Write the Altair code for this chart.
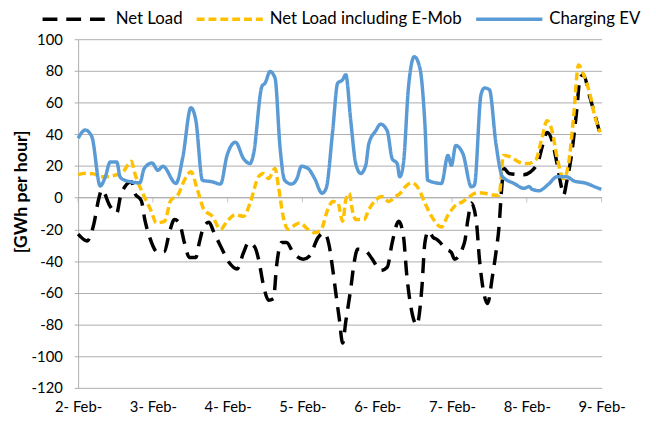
import altair as alt
import pandas as pd

# ---- data (hours since 2-Feb 00:00, values in GWh per hour) ----
day_hours = [0, 24, 48, 72, 96, 120, 144, 168]
day_labels = ["2- Feb-", "3- Feb-", "4- Feb-", "5- Feb-", "6- Feb-", "7- Feb-", "8- Feb-", "9- Feb-"]

series_names = ["Net Load", "Net Load including E-Mob", "Charging EV"]

net_h = [0, 2.9, 5.0, 6.7, 7.6, 10.3, 12.4, 13.5, 15.0, 17.1, 18.2, 20.3, 21.4, 23.0, 25.6, 27.7,
         29.3, 30.9, 32.5, 34.1, 35.7, 37.8, 38.9, 40.4, 42.0, 43.6, 45.7, 48.4, 51.0, 53.1, 54.7,
         56.8, 57.9, 59.5, 61.1, 62.7, 63.7, 65.3, 66.9, 69.0, 72.2, 74.3, 77.0, 79.0, 80.6, 81.7,
         82.8, 83.8, 84.9, 85.9, 87.5, 88.6, 89.7, 92.3, 94.4, 97.1, 99.2, 100.8, 102.9, 104.4,
         105.5, 107.1, 108.7, 110.3, 111.3, 112.4, 114.0, 115.1, 118.2, 119.8, 120.8, 124.0, 125.1,
         126.2, 127.8, 128.8, 129.8, 131.4, 133.0, 134.1, 135.1, 135.9, 136.7, 138.3, 143.0, 145.2,
         147.8, 148.9, 150.5, 152.1, 153.7, 155.2, 155.8, 156.8, 158.4, 160.0, 161.1, 162.1, 164.3,
         165.8, 167.4]
net_v = [-23, -27.3, -17, 0, 4.9, -5.5, -9.7, 0, 6.9, 10, 2.8, -2, -13.8, -25.2, -34.6, -34,
         -22, -13.8, -15.9, -28.3, -37.7, -37.7, -28.3, -18, -15.5, -22, -30.5, -40.8, -45, -34.6, -28.3,
         -31.5, -38.8, -55.4, -64.7, -63.7, -42.9, -28.3, -28.3, -34.6, -38.8, -36.7, -25.2, -22.1, -30.5, -45,
         -61.6, -76.1, -91.7, -78.2, -57.4, -40.8, -32.5, -33.6, -38.8, -46, -43.9, -28.3, -14.9, -24.2,
         -49.2, -72, -80.3, -57.4, -28.3, -21.1, -25.2, -26.3, -32.5, -34.6, -38.8, -28.3, -13.8,
         -3.4, -14.9, -38.8, -55.4, -66.8, -49.2, -34.6, -18, 5, 18.4, 15.3, 14.5, 16.3,
         23.6, 31.8, 41.2, 36, 21.5, 6, 1.7, 10, 27.7, 54.7, 75.5, 77.6, 63,
         52.6, 41.2]

emob_h = [0, 2.3, 5.0, 7.1, 9.2, 11.9, 14.5, 17.1, 18.2, 19.8, 21.4, 23.5, 25.1, 27.7, 29.8, 32.0,
          34.1, 36.2, 38.3, 40.4, 43.1, 45.7, 47.8, 50.5, 53.1, 55.2, 57.9, 59.5, 61.1, 63.2, 64.3,
          65.8, 67.4, 69.0, 71.1, 73.8, 75.9, 78.0, 80.1, 81.7, 83.3, 84.9, 85.9, 87.0, 88.1, 89.1,
          91.7, 93.3, 95.5, 97.6, 99.7, 101.8, 103.4, 105.0, 107.1, 109.2, 111.3, 113.5, 116.6, 118.7,
          120.8, 123.5, 125.6, 128.3, 130.4, 133.0, 135.1, 136.5, 138.9, 141.5, 144.1, 146.8, 148.9,
          150.5, 152.1, 153.7, 155.8, 157.4, 159.0, 160.6, 162.2, 164.3, 165.8, 167.6]
emob_v = [14.5, 15.4, 15, 13.2, 13.2, 14.2, 16.5, 23, 15.3, 6.9, 0, -8.7, -15.9, -14.9, -1.4, 1.7,
          11, 16.3, 4.9, -7.6, -11.8, -20, -14.9, -10.7, -11.8, -3.4, 13.2, 15.3, 12.1, 18.4, 6.9,
          -11.8, -20, -18, -15.9, -20, -22.1, -20, -7.6, -2.4, -3, -14.9, -1.4, 2.8, -8.7, -13.8,
          -13.8, -7.6, -1.4, 0.7, -2.4, 0.7, 2.8, 6.9, 9.4, 5.9, -3.4, -12, -18.5, -11,
          -5.5, -2.4, 0.7, 3.2, 2.8, 1.7, 1.5, 26.7, 25.6, 22.5, 21.5, 23.6, 38,
          48.5, 42.2, 25.6, 12.1, 21.5, 50.5, 83.8, 77.6, 65, 51.6, 41.2]

ev_h = [0, 2.3, 4.4, 7.1, 8.7, 10.3, 12.4, 13.5, 15.0, 19.8, 21.2, 23.7, 25.6, 27.2, 31.4, 33.6,
        36.2, 37.8, 39.9, 43.1, 45.7, 47.8, 50.5, 53.1, 55.2, 56.3, 59.0, 60.0, 61.6, 63.2, 64.8,
        66.3, 68.5, 70.1, 71.7, 73.8, 75.9, 78.3, 79.6, 81.7, 83.3, 84.9, 85.9, 87.5, 89.1, 90.7,
        92.3, 93.3, 95.5, 97.1, 99.2, 100.8, 102.4, 103.2, 104.4, 106.0, 107.9, 109.7, 111.3, 112.2,
        116.6, 118.7, 119.8, 121.2, 123.5, 126.2, 127.2, 129.3, 130.4, 132.0, 134.1, 136.2, 139.9,
        143.1, 144.7, 145.7, 147.9, 151.0, 153.7, 156.8, 159.0, 163.2, 165.8, 167.9]
ev_v = [37.5, 42.7, 38.5, 7.4, 13, 22.5, 22.5, 13, 11, 9.4, 18.4, 21.9, 17.3, 19.8, 9, 25.6,
        56.8, 48.5, 11, 10, 8.6, 26.7, 35, 24.6, 21.5, 27.7, 70.3, 72.3, 79.6, 75.5, 31.8,
        11, 8.6, 11.5, 19.8, 18.4, 12.1, 2.8, 5.9, 42.2, 72.3, 74.4, 77.6, 48.5, 21.5, 15.3,
        20.4, 34, 42.2, 46.4, 42.2, 24.6, 21.5, 13.2, 21.5, 69.2, 89, 81.7, 46.4, 11,
        9, 26.7, 20.4, 32.9, 27.7, 6.9, 8, 65, 69.2, 68.2, 34, 13.2, 9,
        5.9, 7, 5.3, 4.4, 8.6, 13.2, 13.2, 10.7, 9, 6.9, 5.3]

# ---- build tables ----
rows = []
for name, hs, vs in [(series_names[0], net_h, net_v),
                     (series_names[1], emob_h, emob_v),
                     (series_names[2], ev_h, ev_v)]:
    for h, v in zip(hs, vs):
        rows.append({"h": h, "v": v, "series": name})
df = pd.DataFrame(rows)
ticks_df = pd.DataFrame({"h": day_hours, "v": [0] * len(day_hours)})
zero_df = pd.DataFrame({"h": [0, 168], "v": [0, 0]})

FONT = "Lato"
GRID = "#ADADAD"

label_expr = "[" + ",".join('"%s"' % s for s in day_labels) + "][round(datum.value/24)]"

x_enc = alt.X("h:Q", scale=alt.Scale(domain=[0, 168], nice=False, zero=False),
              axis=alt.Axis(values=day_hours, labelExpr=label_expr, grid=False, ticks=False,
                            domain=False, title=None, labelFont=FONT, labelFontSize=15,
                            labelColor="#000000", labelPadding=12, labelFlush=False,
                            labelOverlap=False))
y_enc = alt.Y("v:Q", scale=alt.Scale(domain=[-120, 100], nice=False, zero=False),
              axis=alt.Axis(values=list(range(-120, 101, 20)), grid=True, gridColor=GRID,
                            gridWidth=1, domain=True, domainColor=GRID, tickColor=GRID,
                            tickSize=4, labelFont=FONT, labelFontSize=15, labelColor="#000000",
                            labelPadding=12, labelOverlap=False, labelExpr="'' + datum.value",
                            title="[GWh per hour]", titleFont=FONT,
                            titleFontSize=18, titleFontWeight="bold", titleColor="#000000",
                            titleAngle=-90, titleX=-57, titleY=154, titleAlign="center",
                            titleBaseline="middle"))

color_scale = alt.Scale(domain=series_names, range=["#000000", "#FFC000", "#5B9BD5"])
dash_scale = alt.Scale(domain=series_names, range=[[15, 9], [8, 4], [1, 0]])
legend = alt.Legend(title=None)

base = alt.Chart(df)

def line_layer(name, width):
    return base.transform_filter(alt.datum.series == name).mark_line(
        strokeWidth=width, interpolate="monotone").encode(
        x=x_enc, y=y_enc,
        color=alt.Color("series:N", scale=color_scale, legend=legend),
        strokeDash=alt.StrokeDash("series:N", scale=dash_scale, legend=legend),
    )

zero_rule = alt.Chart(zero_df).mark_line(color=GRID, strokeWidth=1).encode(x=x_enc, y=y_enc)
zero_ticks = alt.Chart(ticks_df).mark_tick(color=GRID, orient="vertical", size=5,
                                           thickness=1, yOffset=2.5).encode(x=x_enc, y=y_enc)

chart = alt.layer(
    zero_rule, zero_ticks,
    line_layer(series_names[0], 3.5),
    line_layer(series_names[1], 3.5),
    line_layer(series_names[2], 3.5),
).properties(
    width=530, height=353,
    autosize=alt.AutoSizeParams(type="none"),
    padding={"left": 71, "top": 29, "right": 47, "bottom": 34},
).configure_view(stroke=None).configure_legend(
    orient="none", legendX=-38, legendY=-56, direction="horizontal",
    symbolType="stroke", symbolSize=4489, symbolStrokeWidth=3.5,
    labelFont=FONT, labelFontSize=17, labelColor="#000000", labelOffset=5,
    labelLimit=0, columnPadding=7, padding=0
)

chart.save("out.html", embed_options={"renderer": "svg", "actions": False})
